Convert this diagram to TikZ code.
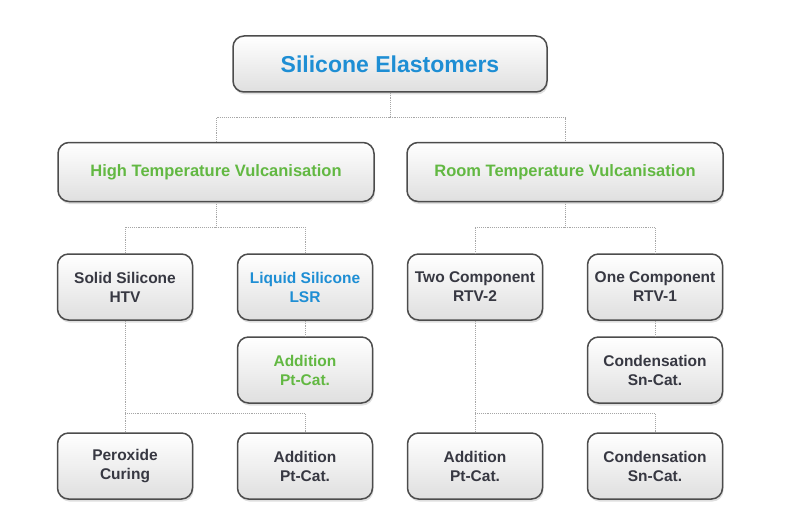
\documentclass[tikz,border=0pt]{standalone}
\usepackage{fontspec}
\setmainfont{Liberation Sans}
\usetikzlibrary{shadows}

\definecolor{siliblue}{RGB}{30,142,212}
\definecolor{siligreen}{RGB}{98,184,66}
\definecolor{siligray}{RGB}{55,56,66}

\begin{document}
\begin{tikzpicture}[x=1pt,y=-1pt,
    box/.style={rectangle, rounded corners=11pt, draw=gray!60!black, line width=1.5pt,
        top color=white, bottom color=gray!25, align=center, inner sep=0pt,
        font=\bfseries\fontsize{15.5}{19}\selectfont, text=siligray,
        drop shadow={opacity=0.25, shadow xshift=1pt, shadow yshift=-2.5pt}},
    bigbox/.style={box, minimum width=316pt, minimum height=59pt,
        font=\bfseries\fontsize{16.5}{20}\selectfont, text=siligreen},
    smallbox/.style={box, minimum width=135pt, minimum height=66pt},
    link/.style={draw=gray!70, densely dotted, line width=0.9pt}]
    \useasboundingbox (0,0) rectangle (800,516);
    % top level
    \node[box, minimum width=314pt, minimum height=56pt,
        font=\bfseries\fontsize{23}{26}\selectfont, text=siliblue] (top) at (390,64) {Silicone Elastomers};
    \node[bigbox] (htv) at (216,172) {High Temperature Vulcanisation};
    \node[bigbox] (rtv) at (565,172) {Room Temperature Vulcanisation};
    % second row
    \node[smallbox] (solid) at (125,287) {Solid Silicone\\HTV};
    \node[smallbox, text=siliblue] (liquid) at (305,287) {Liquid Silicone\\LSR};
    \node[smallbox] (twocomp) at (475,287) {Two Component\\RTV-2};
    \node[smallbox] (onecomp) at (655,287) {One Component\\RTV-1};
    % third row
    \node[smallbox, text=siligreen] (lsradd) at (305,370) {Addition\\Pt-Cat.};
    \node[smallbox] (onecond) at (655,370) {Condensation\\Sn-Cat.};
    % bottom row
    \node[smallbox] (peroxide) at (125,466) {Peroxide\\Curing};
    \node[smallbox] (htvadd) at (305,466) {Addition\\Pt-Cat.};
    \node[smallbox] (rtvadd) at (475,466) {Addition\\Pt-Cat.};
    \node[smallbox] (rtvcond) at (655,466) {Condensation\\Sn-Cat.};

    \draw[link] (top.south) -- ++(0,25) -| (htv.north);
    \draw[link] (top.south) -- ++(0,25) -| (rtv.north);
    \draw[link] (htv.south) -- ++(0,25) -| (solid.north);
    \draw[link] (htv.south) -- ++(0,25) -| (liquid.north);
    \draw[link] (rtv.south) -- ++(0,25) -| (twocomp.north);
    \draw[link] (rtv.south) -- ++(0,25) -| (onecomp.north);
    \draw[link] (liquid) -- (lsradd);
    \draw[link] (onecomp) -- (onecond);
    \draw[link] (solid.south) -- (peroxide.north);
    \draw[link] (solid.south) -- ++(0,93) -| (htvadd.north);
    \draw[link] (twocomp.south) -- (rtvadd.north);
    \draw[link] (twocomp.south) -- ++(0,93) -| (rtvcond.north);
\end{tikzpicture}
\end{document}
